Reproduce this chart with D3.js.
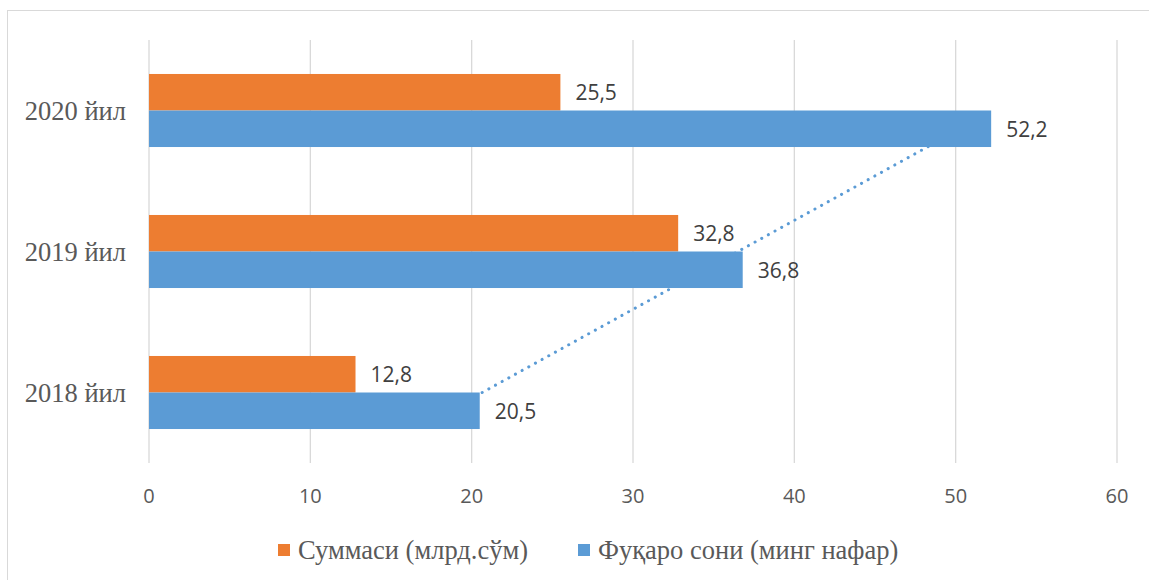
<!DOCTYPE html>
<html>
<head>
<meta charset="utf-8">
<script src="https://cdn.jsdelivr.net/npm/d3@7"></script>
<style>
  body { margin: 0; background: #fff; }
  svg { display: block; }
</style>
</head>
<body>
<svg id="chart"></svg>
<script>
const categories = ['2020 йил', '2019 йил', '2018 йил']
const seriesNames = ['Суммаси (млрд.сўм)', 'Фуқаро сони (минг нафар)']
const summa = [25.5, 32.8, 12.8]
const fuqaro = [52.2, 36.8, 20.5]
const xTicks = [0, 10, 20, 30, 40, 50, 60]
const colors = ['#ED7D31', '#5B9BD5']

const width = 1149, height = 580
const svg = d3.select('#chart').attr('width', width).attr('height', height)

// chart frame
svg.append('rect')
  .attr('x', 7.5).attr('y', 10.5)
  .attr('width', 1200).attr('height', 600)
  .attr('fill', 'none').attr('stroke', '#d9d9d9')

const x = d3.scaleLinear().domain([0, 60]).range([149, 1117])
const y = d3.scaleBand().domain(categories).range([40, 463])
  .paddingInner(0.482).paddingOuter(0.241)
const ySeries = d3.scaleBand().domain([0, 1]).range([0, y.bandwidth()])

const fmt = v => String(v).replace('.', ',')

// gridlines
svg.append('g').selectAll('line')
  .data(xTicks)
  .join('line')
  .attr('x1', d => x(d)).attr('x2', d => x(d))
  .attr('y1', 40).attr('y2', 463)
  .attr('stroke', '#d9d9d9').attr('stroke-width', 1.3)

// tick labels
svg.append('g').selectAll('text')
  .data(xTicks)
  .join('text')
  .attr('x', d => x(d)).attr('y', 495)
  .attr('text-anchor', 'middle').attr('dominant-baseline', 'central')
  .attr('font-family', 'Open Sans, sans-serif').attr('font-size', 20)
  .attr('fill', '#595959')
  .text(d => d)

// linear trendline for the blue series (least squares on category index)
const order = categories.map((c, i) => i).reverse() // 2018, 2019, 2020
const pts = order.map((ci, k) => [k + 1, fuqaro[ci]])
const mx = d3.mean(pts, p => p[0]), my = d3.mean(pts, p => p[1])
const slope = d3.sum(pts, p => (p[0] - mx) * (p[1] - my)) / d3.sum(pts, p => (p[0] - mx) ** 2)
const icpt = my - slope * mx
const trend = order.map((ci, k) => ({ cat: categories[ci], v: icpt + slope * (k + 1) }))
const first = trend[0], last = trend[trend.length - 1]

svg.append('path')
  .datum([first, last])
  .attr('d', d3.line()
    .x(d => x(d.v))
    .y(d => y(d.cat) + y.bandwidth() / 2))
  .attr('fill', 'none')
  .attr('stroke', colors[1]).attr('stroke-width', 3)
  .attr('stroke-linecap', 'round')
  .attr('stroke-dasharray', '0.1 7.5')

// bars
const rows = categories.map((c, i) => ({ cat: c, vals: [summa[i], fuqaro[i]] }))
const groups = svg.append('g').selectAll('g')
  .data(rows)
  .join('g')
  .attr('transform', d => `translate(0,${y(d.cat)})`)

groups.selectAll('rect')
  .data(d => d.vals.map((v, s) => ({ v, s })))
  .join('rect')
  .attr('x', x(0))
  .attr('y', d => ySeries(d.s))
  .attr('width', d => x(d.v) - x(0))
  .attr('height', ySeries.bandwidth())
  .attr('fill', d => colors[d.s])

groups.selectAll('text')
  .data(d => d.vals.map((v, s) => ({ v, s })))
  .join('text')
  .attr('x', d => x(d.v) + 15)
  .attr('y', d => ySeries(d.s) + ySeries.bandwidth() / 2)
  .attr('dominant-baseline', 'central')
  .attr('font-family', 'Open Sans, sans-serif').attr('font-size', 21)
  .attr('fill', '#404040')
  .text(d => fmt(d.v))

// category labels
svg.append('g').selectAll('text')
  .data(categories)
  .join('text')
  .attr('x', 126)
  .attr('y', d => y(d) + y.bandwidth() / 2)
  .attr('text-anchor', 'end').attr('dominant-baseline', 'central')
  .attr('font-family', 'Liberation Serif, Times New Roman, serif').attr('font-size', 26.5)
  .attr('fill', '#595959')
  .text(d => d)

// legend
const legendX = [278, 578]
const legend = svg.append('g').selectAll('g')
  .data(seriesNames)
  .join('g')
  .attr('transform', (d, i) => `translate(${legendX[i]},550)`)

legend.append('rect')
  .attr('x', 0).attr('y', -6)
  .attr('width', 12).attr('height', 12)
  .attr('fill', (d, i) => colors[i])

legend.append('text')
  .attr('x', 20).attr('y', 0)
  .attr('dominant-baseline', 'central')
  .attr('font-family', 'Liberation Serif, Times New Roman, serif').attr('font-size', 26.5)
  .attr('fill', '#595959')
  .text(d => d)
</script>
</body>
</html>
